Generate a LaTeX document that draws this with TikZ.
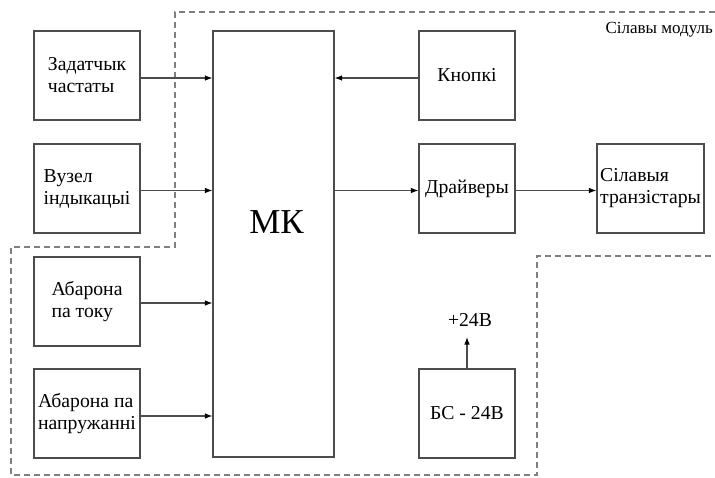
\documentclass[tikz,border=0pt]{standalone}
\usepackage{fontspec}
\setmainfont{Liberation Serif}
\usetikzlibrary{arrows.meta}
\begin{document}
\begin{tikzpicture}[x=1pt,y=-1pt,
  blk/.style={draw=black!70, line width=1.1pt, inner sep=0pt, align=left,
    font=\fontsize{19.7}{22}\selectfont},
  arr/.style={draw=black!70, line width=1.1pt, -{Latex[length=7.5pt,width=5.5pt,color=black]}},
  dashline/.style={draw=black!50, line width=1.3pt, dash pattern=on 6pt off 4pt},
  lbl/.style={inner sep=0pt, font=\fontsize{19.7}{22}\selectfont}]
\useasboundingbox (0,0) rectangle (715,477);
% dashed boundary
\draw[dashline] (715,12) -- (175,12) -- (175,247) -- (11,247) -- (11,475) -- (537,475) -- (537,256) -- (715,256);
\node[inner sep=0pt, anchor=base east, font=\fontsize{17}{20}\selectfont] (sm) at (713,33) {Сілавы модуль};
% left blocks
\node[blk, minimum width=106pt, minimum height=89pt] (zad) at (87,75.5) {Задатчык\\частаты};
\node[blk, minimum width=106pt, minimum height=89pt] (vuz) at (87,188.5) {Вузел\\індыкацыі};
\node[blk, minimum width=106pt, minimum height=89pt] (abt) at (87,301.5) {Абарона\\па току};
\node[blk, minimum width=106pt, minimum height=89pt] (abn) at (87,413.5) {Абарона па\\напружанні};
% MK
\node[blk, minimum width=121pt, minimum height=426pt] (mk) at (273.5,244) {};
\node[inner sep=0pt, anchor=base, font=\fontsize{35}{40}\selectfont] (mkt) at (276.5,233) {МК};
% right blocks
\node[blk, minimum width=96pt, minimum height=89pt] (kn) at (467,75.5) {Кнопкі};
\node[blk, minimum width=96pt, minimum height=89pt] (dr) at (467,188.5) {Драйверы};
\node[blk, minimum width=107pt, minimum height=89pt] (tr) at (650.5,188.5) {Сілавыя\\транзістары};
\node[blk, minimum width=96pt, minimum height=89pt] (bs) at (467,413.5) {БС - 24В};
\coordinate (pw) at (467,337);
\node[lbl, anchor=base] (p24) at (470,326) {+24В};
% connectors
\draw[arr] ([yshift=-2.5pt]zad.east) -- ([yshift=-2.5pt]zad.east -| mk.west);
\draw[arr] ([yshift=-2pt]vuz.east) -- ([yshift=-2pt]vuz.east -| mk.west);
\draw[arr] ([yshift=-1.5pt]abt.east) -- ([yshift=-1.5pt]abt.east -| mk.west);
\draw[arr] ([yshift=-2.5pt]abn.east) -- ([yshift=-2.5pt]abn.east -| mk.west);
\draw[arr] ([yshift=-2.5pt]kn.west) -- ([yshift=-2.5pt]kn.west -| mk.east);
\draw[arr] ([yshift=-2pt]dr.west -| mk.east) -- ([yshift=-2pt]dr.west);
\draw[arr] ([yshift=-2pt]dr.east) -- ([yshift=-2pt]tr.west);
\draw[arr] (bs.north) -- (pw);
\end{tikzpicture}
\end{document}
